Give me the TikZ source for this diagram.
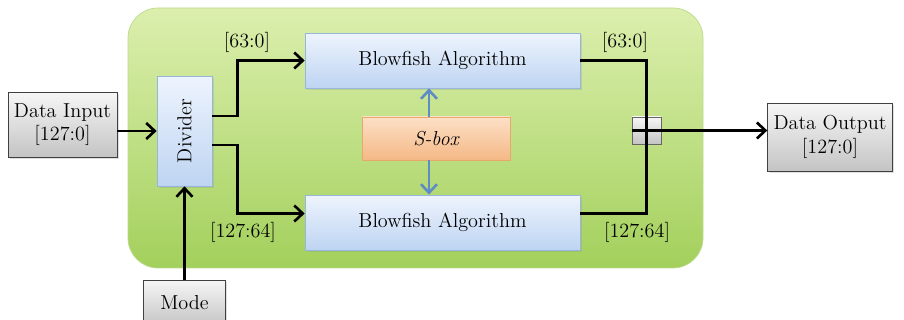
\documentclass[tikz,border=0pt]{standalone}
\usepackage{tikz}
\usetikzlibrary{shadows,arrows.meta}

\definecolor{bgtop}{RGB}{220,239,174}
\definecolor{bgbot}{RGB}{163,208,92}
\definecolor{bgedge}{RGB}{188,218,140}
\definecolor{bluetop}{RGB}{238,244,253}
\definecolor{bluebot}{RGB}{190,212,242}
\definecolor{blueedge}{RGB}{150,182,222}
\definecolor{greytop}{RGB}{246,246,246}
\definecolor{greybot}{RGB}{196,196,196}
\definecolor{orangetop}{RGB}{252,224,198}
\definecolor{orangebot}{RGB}{245,184,134}
\definecolor{orangeedge}{RGB}{232,168,108}
\definecolor{sboxline}{RGB}{96,140,198}

\begin{document}
\begin{tikzpicture}[x=0.02cm,y=-0.02cm,
    every node/.style={font=\fontsize{11.5}{13.5}\selectfont},
    tip/.style={-{Straight Barb[length=1.7mm,width=3.2mm]}},
    wire/.style={line width=1.5pt,black,tip},
    bluebox/.style={draw=blueedge,top color=bluetop,bottom color=bluebot,
      drop shadow={opacity=0.2,shadow xshift=0.04cm,shadow yshift=-0.04cm}},
    greybox/.style={draw=black!75,top color=greytop,bottom color=greybot,align=center,
      drop shadow={opacity=0.25,shadow xshift=0.04cm,shadow yshift=-0.04cm}}]
    \clip (0,0) rectangle (904,320);% page size of the reference
    \draw[bgedge,top color=bgtop,bottom color=bgbot,rounded corners=0.6cm]
        (128,8) rectangle (703,268);% green module
    \node[greybox,minimum width=2.18cm,minimum height=1.3cm] (din) at (62.5,124.5) {Data Input\\{}[127:0]};
    \node[greybox,minimum width=2.4cm,minimum height=1.36cm] (dout) at (830,137) {Data Output\\{}[127:0]};
    \node[greybox,minimum width=1.64cm,minimum height=0.92cm] (mode) at (184.5,303) {Mode};
    \node[bluebox,minimum width=1.1cm,minimum height=2.2cm] (div) at (184.5,131) {\rotatebox{90}{Divider}};
    \node[bluebox,minimum width=5.5cm,minimum height=1.1cm] (bfa) at (442.5,60.5) {Blowfish Algorithm};
    \node[bluebox,minimum width=5.5cm,minimum height=1.1cm] (bfb) at (442.5,222.5) {Blowfish Algorithm};
    \node[draw=orangeedge,top color=orangetop,bottom color=orangebot,
        minimum width=2.96cm,minimum height=0.86cm] (sbox) at (436,138.5) {\itshape S-box};
    \node[draw=black!60,top color=greytop,bottom color=greybot,
        minimum width=0.58cm,minimum height=0.54cm] (join) at (646.5,130.5) {};
    \draw[black!60] (join.west) -- (join.east);
    % connectors
    \draw[wire] (din.east |- div.west) -- (div.west);
    \draw[wire] (mode.north) -- (div.south);
    \draw[wire] ([yshift=0.3cm]div.east) -- ++(25,0) |- (bfa.west);
    \draw[wire] ([yshift=-0.28cm]div.east) -- ++(25,0) |- ([yshift=0.18cm]bfb.west);
    \draw[line width=1.5pt] (bfa.east) -| (join.center) |- ([yshift=0.18cm]bfb.east);
    \draw[wire] (join.west) -- (join.west -| dout.west);
    \draw[sboxline,line width=1.5pt,tip] ([xshift=-0.14cm]sbox.north) -- ([xshift=-0.14cm]sbox.north |- bfa.south);
    \draw[sboxline,line width=1.5pt,tip] ([xshift=-0.14cm]sbox.south) -- ([xshift=-0.14cm]sbox.south |- bfb.north);
    % bus widths
    \node (la) at (247,42) {[63:0]};
    \node (ra) at (625,42) {[63:0]};
    \node (lb) at (243,232) {[127:64]};
    \node (rb) at (637,232) {[127:64]};
\end{tikzpicture}
\end{document}
